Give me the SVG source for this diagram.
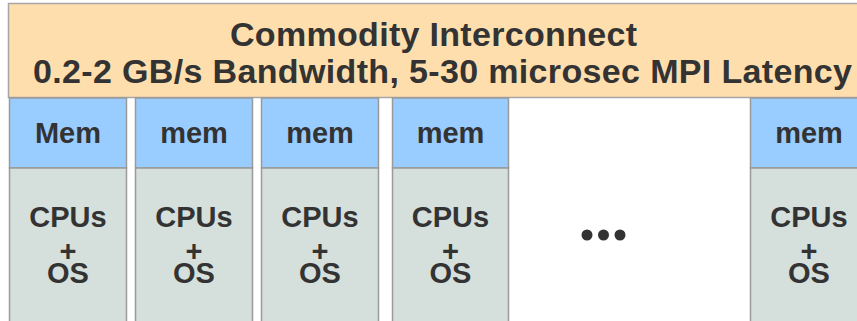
<svg xmlns="http://www.w3.org/2000/svg" width="857" height="321" viewBox="0 0 857 321">
  <style>
    .bar { fill: #FFDEAD; stroke: #A6A6A6; stroke-width: 1.5; }
    .mem { fill: #99CCFF; stroke: #9A9A9A; stroke-width: 1.5; }
    .cpu { fill: #D5DFDB; stroke: #9A9A9A; stroke-width: 1.5; }
    text { font-family: "Liberation Sans", Arial, sans-serif; font-weight: bold; fill: #333333; text-anchor: middle; }
    .title { font-size: 34px; }
    .lbl { font-size: 29px; }
    .dot { fill: #333333; }
  </style>
  <rect width="857" height="321" fill="#FFFFFF"/>

  <!-- interconnect bar -->
  <g id="interconnect">
    <rect class="bar" x="8.5" y="3.5" width="860" height="94"/>
    <text class="title" x="433.5" y="46" textLength="407" lengthAdjust="spacing">Commodity Interconnect</text>
    <text class="title" x="442.5" y="83" textLength="819" lengthAdjust="spacing">0.2-2 GB/s Bandwidth, 5-30 microsec MPI Latency</text>
  </g>

  <!-- compute nodes: memory on top, processors below -->
  <g id="node1">
    <rect class="mem" x="9.5" y="98" width="117" height="70"/>
    <text class="lbl" x="68" y="143">Mem</text>
    <rect class="cpu" x="9.5" y="168" width="117" height="160"/>
    <text class="lbl"><tspan x="68" y="227">CPUs</tspan><tspan x="68" y="261">+</tspan><tspan x="68" y="283">OS</tspan></text>
  </g>
  <g id="node2">
    <rect class="mem" x="135.5" y="98" width="117" height="70"/>
    <text class="lbl" x="194" y="143">mem</text>
    <rect class="cpu" x="135.5" y="168" width="117" height="160"/>
    <text class="lbl"><tspan x="194" y="227">CPUs</tspan><tspan x="194" y="261">+</tspan><tspan x="194" y="283">OS</tspan></text>
  </g>
  <g id="node3">
    <rect class="mem" x="261.5" y="98" width="117" height="70"/>
    <text class="lbl" x="320" y="143">mem</text>
    <rect class="cpu" x="261.5" y="168" width="117" height="160"/>
    <text class="lbl"><tspan x="320" y="227">CPUs</tspan><tspan x="320" y="261">+</tspan><tspan x="320" y="283">OS</tspan></text>
  </g>
  <g id="node4">
    <rect class="mem" x="392.5" y="98" width="116" height="70"/>
    <text class="lbl" x="450.5" y="143">mem</text>
    <rect class="cpu" x="392.5" y="168" width="116" height="160"/>
    <text class="lbl"><tspan x="450.5" y="227">CPUs</tspan><tspan x="450.5" y="261">+</tspan><tspan x="450.5" y="283">OS</tspan></text>
  </g>

  <!-- ellipsis between nodes -->
  <g id="ellipsis">
    <circle class="dot" cx="587" cy="235" r="5.5"/>
    <circle class="dot" cx="603.5" cy="235" r="5.5"/>
    <circle class="dot" cx="620" cy="235" r="5.5"/>
  </g>

  <g id="nodeN">
    <rect class="mem" x="750.5" y="98" width="117" height="70"/>
    <text class="lbl" x="809" y="143">mem</text>
    <rect class="cpu" x="750.5" y="168" width="117" height="160"/>
    <text class="lbl"><tspan x="809" y="227">CPUs</tspan><tspan x="809" y="261">+</tspan><tspan x="809" y="283">OS</tspan></text>
  </g>

  <!-- no connectors in this figure -->
  <g id="connectors"/>
</svg>
